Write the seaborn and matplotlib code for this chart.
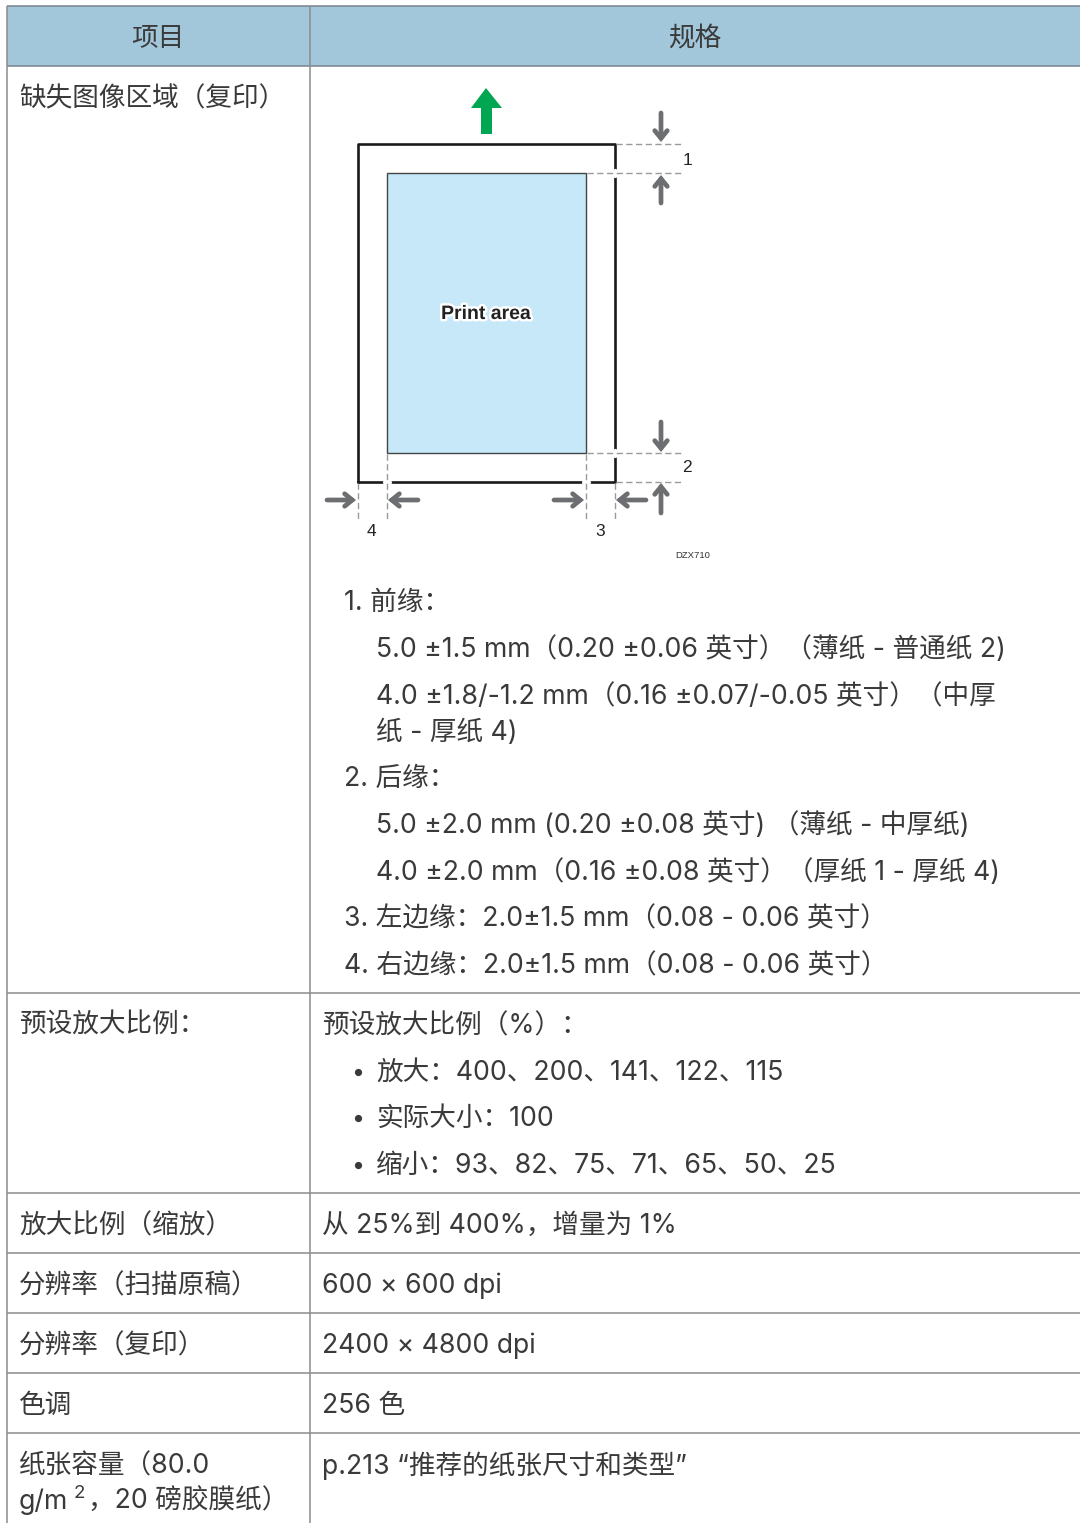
import matplotlib
matplotlib.use("Agg")
import matplotlib.pyplot as plt
import matplotlib.patheffects as pe
from matplotlib.patches import FancyArrowPatch, Polygon, Rectangle
import seaborn as sns

# --- texto da tabela ---
header = ["项目", "规格"]
left_rows = ["缺失图像区域（复印）", "预设放大比例：", "放大比例（缩放）", "分辨率（扫描原稿）",
             "分辨率（复印）", "色调", "纸张容量（80.0"]
left_last = ["g/m", "2", "，20 磅胶膜纸）"]
spec_lines = [
    "1. 前缘：",
    "5.0 ±1.5 mm（0.20 ±0.06 英寸）（薄纸 - 普通纸 2)",
    "4.0 ±1.8/-1.2 mm（0.16 ±0.07/-0.05 英寸）（中厚",
    "纸 - 厚纸 4)",
    "2. 后缘：",
    "5.0 ±2.0 mm (0.20 ±0.08 英寸) （薄纸 - 中厚纸)",
    "4.0 ±2.0 mm（0.16 ±0.08 英寸）（厚纸 1 - 厚纸 4)",
    "3. 左边缘：2.0±1.5 mm（0.08 - 0.06 英寸）",
    "4. 右边缘：2.0±1.5 mm（0.08 - 0.06 英寸）",
    "预设放大比例（%）：",
    "放大：400、200、141、122、115",
    "实际大小：100",
    "缩小：93、82、75、71、65、50、25",
    "从 25%到 400%，增量为 1%",
    "600 × 600 dpi",
    "2400 × 4800 dpi",
    "256 色",
    "p.213 “推荐的纸张尺寸和类型”",
]

# --- posicoes em pixels ---
row_lines = [66, 993, 1193, 1253, 1313, 1373, 1433]
left_y = [99, 1026, 1226, 1286, 1346, 1406, 1466]
spec_x = [344, 376, 376, 376, 344, 376, 376, 344, 344, 322, 376, 376, 376, 322, 322, 322, 322, 322]
spec_y = [603, 650, 697, 733, 779, 826, 873, 919, 966, 1026, 1073, 1119, 1166, 1226, 1286, 1346, 1406, 1466]
bullet_y = [1071, 1117, 1164]

arrows = [(661, 113, 661, 142), (661, 203, 661, 175), (661, 422, 661, 452), (661, 513, 661, 483),
          (327, 500, 356, 500), (418, 500, 388, 500), (554, 500, 584, 500), (646, 500, 616, 500)]
dash_h = [(144, 616, 681), (173, 587, 681), (453, 587, 681), (482, 616, 681)]
dash_v = [(358, 483, 519), (387, 454, 519), (585.5, 454, 519), (615, 483, 519)]
num_labels = [("1", 687, 160), ("2", 687, 467), ("3", 600, 531), ("4", 371, 531)]

CJK = ["Inter", "Noto Sans CJK SC", "DejaVu Sans"]
TXT = "#3a3a3a"
LINE = "#8c8c8c"
FS = 19.2

sns.set_theme(style="white")
plt.rcParams["font.family"] = CJK

fig = plt.figure(figsize=(10.8, 15.23), dpi=100)
ax = fig.add_axes([0, 0, 1, 1])
ax.set_xlim(0, 1080)
ax.set_ylim(1523, 0)
ax.axis("off")

# cabecalho e grade
ax.add_patch(Rectangle((7, 6), 1073, 60, fc="#a3c7da", ec="none", zorder=0))
ax.hlines([6, 66], 7, 1080, color="#76838c", lw=1.1, zorder=2)
ax.hlines(row_lines[1:], 7, 1080, color=LINE, lw=1.1, zorder=2)
ax.vlines(7, 6, 1523, color=LINE, lw=1.1, zorder=2)
ax.vlines(310, 6, 1523, color=LINE, lw=1.1, zorder=2)

ax.text(158, 39, header[0], fontsize=FS, color=TXT, ha="center", va="center")
ax.text(695, 39, header[1], fontsize=FS, color=TXT, ha="center", va="center")

for s, y in zip(left_rows, left_y):
    ax.text(19, y, s, fontsize=FS, color=TXT, va="center")
ax.text(19, 1502, left_last[0], fontsize=FS, color=TXT, va="center")
ax.text(74, 1494, left_last[1], fontsize=13.5, color=TXT, va="center")
ax.text(88, 1502, left_last[2], fontsize=FS, color=TXT, va="center")

for s, x, y in zip(spec_lines, spec_x, spec_y):
    ax.text(x, y, s, fontsize=FS, color=TXT, va="center")
for y in bullet_y:
    ax.plot(358, y + 1, "o", ms=5.2, color=TXT, mew=0)

# diagrama
ax.add_patch(Rectangle((387, 173), 198.5, 280, fc="#c6e8f9", ec="#444444", lw=1.0, zorder=2))
sns.lineplot(x=[358, 358, 615, 615, 358], y=[482, 144, 144, 482, 482], sort=False, estimator=None,
             color="#1a1a1a", lw=1.9, ax=ax, zorder=3, legend=False)
for y, x0, x1 in dash_h:
    ax.plot([x0, x1], [y, y], color="#9a9a9a", lw=1, ls=(0, (4.5, 2.5)), zorder=5)
for x, y0, y1 in dash_v:
    ax.plot([x, x], [y0, y1], color="#9a9a9a", lw=1, ls=(0, (4.5, 2.5)), zorder=5)
# pequenos cortes no contorno onde as tracejadas cruzam
ax.plot([615, 615], [170, 176], color="white", lw=2.4, zorder=4)
ax.plot([615, 615], [450, 456], color="white", lw=2.4, zorder=4)
ax.plot([384, 390], [482, 482], color="white", lw=2.4, zorder=4)
ax.plot([582.5, 588.5], [482, 482], color="white", lw=2.4, zorder=4)

ax.add_patch(Polygon([(486, 88), (502, 108), (492, 108), (492, 134), (481, 134), (481, 108), (471, 108)],
                     fc="#00a651", ec="none", zorder=3))
for x0, y0, x1, y1 in arrows:
    ax.add_patch(FancyArrowPatch((x0, y0), (x1, y1), arrowstyle="->,head_length=5.5,head_width=4.5",
                                 color="#6d6e71", lw=3.4, shrinkA=0, shrinkB=0, mutation_scale=1,
                                 capstyle="round", joinstyle="miter", zorder=6))

for s, x, y in num_labels:
    ax.text(x, y, s, fontsize=12.5, family="Liberation Sans", color="#222222", ha="center", va="center")
ax.text(692.5, 555, "DZX710", fontsize=6.8, family="Liberation Sans", color="#333333", ha="center", va="center")
ax.text(486, 314.5, "Print area", fontsize=14, family="Liberation Sans", weight="bold", color="#222222",
        ha="center", va="center", zorder=7, path_effects=[pe.withStroke(linewidth=3.5, foreground="white")])

fig.savefig("out.png", dpi=100, facecolor="white")
